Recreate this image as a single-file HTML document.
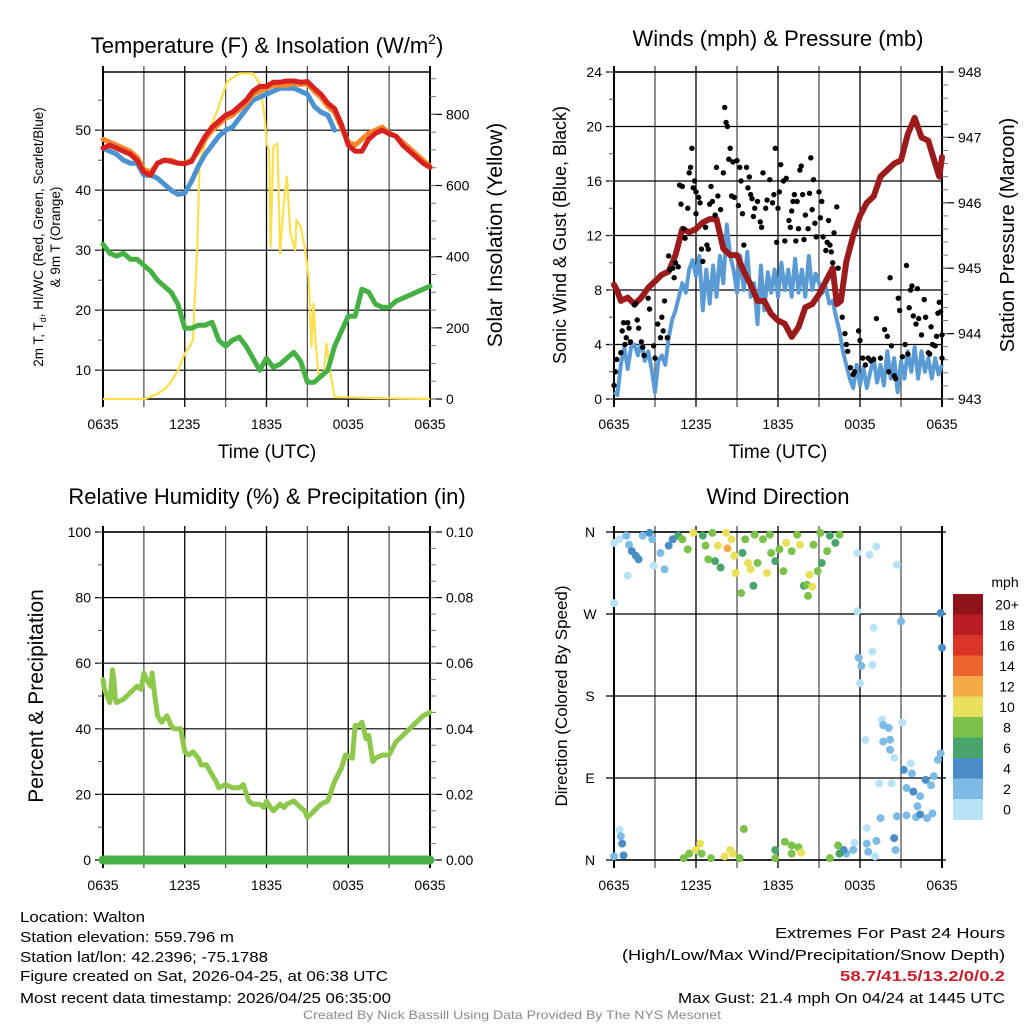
<!DOCTYPE html>
<html><head><meta charset="utf-8"><style>
html,body{margin:0;padding:0;background:#fff}
svg{display:block;font-family:"Liberation Sans",Arial,sans-serif}
</style></head><body>
<svg id="fig" width="1024" height="1024" viewBox="0 0 1024 1024" xmlns="http://www.w3.org/2000/svg">
<rect width="1024" height="1024" fill="#fff"/>
<g id="layer"></g>
<!-- titles -->
<text x="267" y="53" font-size="22" text-anchor="middle">Temperature (F) &amp; Insolation (W/m<tspan font-size="14" dy="-9">2</tspan><tspan dy="9">)</tspan></text>
<text x="778" y="46" font-size="22" text-anchor="middle">Winds (mph) &amp; Pressure (mb)</text>
<text x="267" y="504" font-size="22" text-anchor="middle">Relative Humidity (%) &amp; Precipitation (in)</text>
<text x="778" y="504" font-size="22" text-anchor="middle">Wind Direction</text>
<!-- axis titles -->
<text x="267" y="458" font-size="19" text-anchor="middle">Time (UTC)</text>
<text x="778" y="458" font-size="19" text-anchor="middle">Time (UTC)</text>
<text transform="translate(43,237) rotate(-90)" font-size="13.5" text-anchor="middle">2m T, T<tspan font-size="9" dy="3">d</tspan><tspan dy="-3">, HI/WC (Red, Green, Scarlet/Blue)</tspan></text>
<text transform="translate(60,237) rotate(-90)" font-size="13.5" text-anchor="middle">&amp; 9m T (Orange)</text>
<text transform="translate(502,235) rotate(-90)" font-size="21" text-anchor="middle">Solar Insolation (Yellow)</text>
<text transform="translate(566,235) rotate(-90)" font-size="18" text-anchor="middle">Sonic Wind &amp; Gust (Blue, Black)</text>
<text transform="translate(1014,235) rotate(-90)" font-size="20" text-anchor="middle">Station Pressure (Maroon)</text>
<text transform="translate(43,696) rotate(-90)" font-size="21" text-anchor="middle">Percent &amp; Precipitation</text>
<text transform="translate(567,696) rotate(-90)" font-size="17" text-anchor="middle">Direction (Colored By Speed)</text>
<!-- footer -->
<g font-size="15">
<text x="20" y="922" textLength="125" lengthAdjust="spacingAndGlyphs">Location: Walton</text>
<text x="20" y="942" textLength="214" lengthAdjust="spacingAndGlyphs">Station elevation: 559.796 m</text>
<text x="20" y="962" textLength="248" lengthAdjust="spacingAndGlyphs">Station lat/lon: 42.2396; -75.1788</text>
<text x="20" y="981" textLength="368" lengthAdjust="spacingAndGlyphs">Figure created on Sat, 2026-04-25, at 06:38 UTC</text>
<text x="20" y="1003" textLength="371" lengthAdjust="spacingAndGlyphs">Most recent data timestamp: 2026/04/25 06:35:00</text>
<text x="1005" y="938" text-anchor="end" textLength="230" lengthAdjust="spacingAndGlyphs">Extremes For Past 24 Hours</text>
<text x="1005" y="960" text-anchor="end" textLength="383" lengthAdjust="spacingAndGlyphs">(High/Low/Max Wind/Precipitation/Snow Depth)</text>
<text x="1005" y="981" text-anchor="end" fill="#c8202a" font-weight="bold" textLength="165" lengthAdjust="spacingAndGlyphs">58.7/41.5/13.2/0/0.2</text>
<text x="1005" y="1003" text-anchor="end" textLength="327" lengthAdjust="spacingAndGlyphs">Max Gust: 21.4 mph On 04/24 at 1445 UTC</text>
<text x="512" y="1019" text-anchor="middle" font-size="12" fill="#8a8a8a" textLength="418" lengthAdjust="spacingAndGlyphs">Created By Nick Bassill Using Data Provided By The NYS Mesonet</text>
</g>
</svg>
<script>
// ---------- data ----------
const xTickLabels = ["0635","1235","1835","0035","0635"];
const tempHours = [0,0.5,1,1.5,2,2.5,3,3.5,4,4.5,5,5.5,6,6.5,7,7.5,8,8.5,9,9.5,10,10.5,11,11.5,12,12.5,13,13.5,14,14.5,15,15.5,16,16.5,17,17.5,18,18.5,19,19.5,20,20.5,21,21.5,22,22.5,23,23.5,24];
const tempRed = [47,47.5,47,46.5,46,45,43,42.5,44.5,45,44.8,44.5,44.4,44.8,47,49,50.5,51.5,52.5,53,54,55,56.5,57.3,57.3,58,58,58.2,58.2,58,58.1,57,56,54.5,53.6,51,47.5,46.5,46.5,48.5,49.5,50,49.4,49,47.5,46.5,45.5,44.5,43.8];
const tempOrange = [48.5,48,47.5,47,46.5,45.5,43.5,43,44.5,45,45,44.5,44.5,45,46.5,48.5,50,51,52,52.5,53.5,54.5,56,56.5,57,57.5,57.5,57.5,57.8,57.6,57.8,56.5,55.5,54,53,50.5,48,47.5,48.5,49.5,50,50.5,49.5,49,48,47,46,45,44];
const tempBlue = [47,46.5,46,45,44.5,44.5,42.5,42.5,42,41,40,39.3,39.5,41.5,44,46,47.5,49,50,50.5,52,53.5,55,55.5,56,56.5,57,57,57,56.5,56,54,53,52.5,50,null,null,null,null,null,null,null,null,45.5,null,null,null,null,42.5];
const dewGreen = [31,29.5,29,29.5,28.5,28.5,27.5,26.5,25,24,23,21,17,17,17.5,17.5,18,15,14,15,15.5,14,12,10,12,10.5,11,12,13,11.5,8,8,9,10,14,16.5,19,19,23.5,23,21,20.5,20.5,21.5,22,22.5,23,23.5,24];
const solarHours = [0,3,3.2,4,4.6,5,5.5,6,6.4,6.6,6.9,7.1,7.3,7.6,8.4,9.1,10,11,11.5,11.9,12,12.2,12.3,12.5,12.8,13,13.25,13.5,13.75,14.1,14.2,14.5,14.8,15.1,15.3,15.45,15.6,15.8,16.2,16.4,16.7,17,24];
const solarValues = [0,0,2,15,30,49,80,128,150,166,410,672,690,737,812,892,915,915,887,784,718,700,428,709,718,409,540,625,466,419,503,484,428,344,147,269,160,72,63,156,72,5,0];
const windHours = [0,0.25,0.5,0.75,1,1.25,1.5,1.75,2,2.25,2.5,2.75,3,3.25,3.5,3.75,4,4.25,4.5,4.75,5,5.25,5.5,5.75,6,6.25,6.5,6.75,7,7.25,7.5,7.75,8,8.25,8.5,8.75,9,9.25,9.5,9.75,10,10.25,10.5,10.75,11,11.25,11.5,11.75,12,12.25,12.5,12.75,13,13.25,13.5,13.75,14,14.25,14.5,14.75,15,15.25,15.5,15.75,16,16.25,16.5,16.75,17,17.25,17.5,17.75,18,18.25,18.5,18.75,19,19.25,19.5,19.75,20,20.25,20.5,20.75,21,21.25,21.5,21.75,22,22.25,22.5,22.75,23,23.25,23.5,23.75,24];
const windSpeed = [0.5,0.3,2.5,3.8,2.2,3.8,4,3.2,4.2,2.8,3.5,2.2,0.5,2.8,3.2,2.5,4.5,5.8,6.5,7.5,8.5,7.8,9.5,10.2,9,10.5,6.5,9.5,7,9.8,7.5,10.5,8.5,12.8,10.5,9.5,7.8,10.5,8,10.8,7.5,8.5,5.5,9.8,6.5,9.3,7.8,9.5,7.5,10,8,9.5,7.5,10.3,7.8,9.5,7.5,10.5,8,9.2,8.5,7.8,8.2,7,7.2,6,5,3.5,2.5,1.5,0.8,2.5,1,2.3,0.8,2,3,1.2,2.5,1,3.5,1.5,3,0.5,2.8,1.5,3.5,2,3.8,1.5,3.5,2,3,1.5,3,1.8,2.5];
const presHours = [0,0.25,0.5,1,1.5,2,2.5,3,3.5,4,4.5,5,5.5,6,6.5,7,7.5,8,8.5,9,9.5,10,10.5,11,11.5,12,12.5,13,13.5,14,14.5,15,15.5,16,16.3,16.6,17,17.5,18,18.5,19,19.5,20,20.5,21,21.5,22,22.5,23,23.5,23.8,24];
const presValues = [944.75,944.65,944.5,944.55,944.45,944.55,944.7,944.8,944.9,944.95,945.2,945.6,945.55,945.6,945.7,945.75,945.75,945.3,945.2,945.2,944.95,944.75,944.5,944.5,944.3,944.2,944.15,943.95,944.1,944.4,944.45,944.6,944.8,945.0,944.45,944.5,945.1,945.5,945.8,946.0,946.1,946.4,946.5,946.6,946.65,947.05,947.3,947.0,946.95,946.6,946.4,946.7];
const gustHours = [0,0.1,0.2,0.5,0.6,0.7,0.8,0.9,1,1.1,1.2,1.5,1.6,1.7,1.8,2,2.1,2.2,2.5,2.6,2.9,3,3.2,3.4,3.5,3.6,3.7,3.9,4,4.1,4.3,4.4,4.5,4.7,4.8,4.9,5,5.1,5.2,5.4,5.5,5.6,5.7,5.8,5.9,6,6,6.2,6.3,6.4,6.5,6.7,6.8,6.9,7,7.1,7.2,7.4,7.5,7.6,7.8,8,8.1,8.2,8.3,8.4,8.5,8.6,8.7,8.8,9,9.1,9.2,9.3,9.4,9.5,9.7,9.8,9.9,10,10.1,10.2,10.3,10.5,10.7,10.8,10.9,11.1,11.2,11.4,11.6,11.7,11.8,11.9,12,12.1,12.2,12.4,12.5,12.6,12.8,12.9,13,13.1,13.2,13.3,13.4,13.5,13.6,13.7,13.8,13.9,14,14.2,14.3,14.4,14.5,14.6,14.7,14.8,15,15.1,15.2,15.3,15.5,15.6,15.7,15.8,15.9,16,16.1,16.3,16.4,16.7,16.9,17,17.1,17.3,17.5,17.6,17.9,18,18.2,18.4,18.6,18.8,19,19.2,19.5,19.8,20,20.1,20.2,20.3,20.5,20.6,20.8,20.9,21.1,21.3,21.4,21.5,21.6,21.7,21.8,21.9,22.1,22.2,22.3,22.5,22.7,22.8,23,23.1,23.2,23.3,23.5,23.6,23.7,23.8,23.9,24,24];
const gustSpeed = [1,2,2.9,3.4,5,5.6,4,4.5,5.6,5.2,4.2,6.9,7,5.8,5.2,4.2,3.8,3.2,7.4,6.6,3.9,3,5.5,4.5,6,5,7.2,4.5,10.5,9.5,9.6,8.9,10,9.7,15.7,14.3,15.6,12.5,11.8,14,16.6,17,18.4,15.5,16,13.6,15.2,14.8,14.4,11,10.1,12.6,11.3,11,14.3,15.6,14.5,13.5,17,14.9,13.9,16.6,21.4,20.3,20,17.6,18.4,14.9,17.4,14.8,17.5,14.2,17,16,13.6,11.3,17,15.5,16.3,15,14.7,13.4,14,14.5,13,12.6,16.6,14,14.6,16.1,14.4,15,18.4,11.5,14,15.2,17.2,16,11.6,16.2,13.1,12.6,13.8,14.5,15,11.6,14.5,12.5,16.8,17.1,15,11.7,13.5,12.5,15.1,17.7,13.9,16.1,12.9,11.9,15.2,13.3,14.5,11.9,10.9,11.5,13.1,11.3,10.8,10,12.2,14.1,9.6,6,4.8,4,3.5,2.3,1.8,2,5,4.3,3,2.5,3,2.8,2.9,5.9,3,5.1,4.6,2,8.9,3.9,1.7,1.5,7.4,6.5,3.1,4,9.8,3.3,6.7,8,8.3,6.1,5.5,8.1,5.9,4.7,7.3,6,3.4,3.3,5.3,4,3.9,4.6,6.3,7.1,6.4,4.7,3];
const rhHours = [0,0.1,0.3,0.5,0.7,0.8,0.9,1,1.5,2,2.5,2.8,3,3.2,3.5,3.6,3.8,4,4.3,4.7,5,5.2,5.7,6,6.3,6.6,7,7.2,7.6,8,8.3,8.5,9,9.5,10,10.3,10.7,11,11.5,11.8,12,12.3,12.5,13,13.3,13.5,14,14.5,14.8,15,15.5,16,16.5,17,17.5,17.8,18.3,18.5,18.8,19,19.3,19.5,19.8,20,20.5,21,21.5,22,22.5,23,23.5,24];
const rhValues = [55,52,50,48,58,55,49,48,49,51,53,52,57,55,53,57,50,44,42,44,41,40,40,33,32,33,31,29,29,26,24,22,23,22,22,23,18,17,17,16,18,16,15,17,16,17,18,16,15,13,15,17,18,24,28,32,31,41,41,42,37,38,30,31,32,32,36,38,40,42,44,45];
const precipHours = [0,24];
const precipValues = [0,0];
const dirHours = [0,0.4,0.9,1.1,1.3,1.6,1.8,2.1,2.6,2.8,2.9,3.4,3.7,1,0,4,4.3,4.7,5,5.4,5.8,6.5,6.7,6.9,7.2,7.4,7.6,7.8,8.2,8.3,8.6,8.8,8.9,9.3,9.4,9.6,9.8,10,10.2,10.3,10.5,10.9,11.2,11.4,11.5,11.8,12.1,12.4,12.6,13,13.4,13.6,13.9,14.1,14.3,14.5,14.2,14.6,14.9,15.1,15.2,15.6,15.8,16.2,16.5,17.8,18.7,19.2,20.7,17.8,19,21,23.9,24,18.9,17.9,18.1,18.9,18,19.6,19.7,20.1,21.1,18.4,19.7,20.2,20.2,20.5,21.2,21.7,21.8,22.8,23.4,23.7,23.9,21.4,21.9,22.4,22.2,23.2,19.4,20.3,19.5,20.7,21.4,22.1,22.4,22.9,23.3,18.5,19.2,20.5,20.6,18.5,18.6,19.1,17.6,17.5,17,16.8,16.5,16.4,15.8,0.4,0.5,0.6,0.7,0,5.1,5.5,6,6.3,6.4,7.1,8.1,8.5,8.7,9.2,9.5,11.8,11.8,12.5,13,13,13.5,13.7];
const dirDegrees = [348,352,356,346,339,334,330,356,359,352,323,337,319,312,282,345,352,356,352,341,359,356,345,330,359,328,345,321,359,342,352,334,315,293,337,352,326,319,301,357,326,352,315,357,337,328,341,317,348,339,357,346,301,302,313,300,290,346,317,359,326,339,356,348,357,337,335,344,324,273,255,262,271,233,229,222,213,214,194,154,148,145,151,132,130,132,121,112,99,106,95,88,92,110,117,79,75,70,59,82,84,84,46,48,49,47,50,46,51,35,21,24,11,18,9,4,19,11,7,11,7,16,2,33,26,18,5,4,2,7,11,18,7,2,4,11,7,2,34,2,11,20,16,7,14,8];
const dirSpeeds = [1,1,2,3,4,4,4,2,4,2,1,2,2,1,1,5,4,6,8,8,10,6,8,8,8,6,10,6,10,13,10,10,10,8,6,8,10,10,6,8,8,8,10,8,8,6,8,8,10,8,8,10,6,8,10,10,8,8,8,8,6,8,6,6,8,1,1,1,1,1,1,2,4,4,1,2,2,1,1,1,2,3,1,1,2,2,2,1,4,1,2,4,2,2,2,2,4,2,2,2,1,1,2,2,2,2,4,2,2,1,2,4,2,2,2,1,1,2,3,4,6,8,8,1,2,4,4,2,8,8,10,10,8,8,10,10,10,8,8,8,6,8,8,8,8,10];
const speedBinLabels = ["0","2","4","6","8","10","12","14","16","18","20+"];
const speedBinColors = ["#b8e3f6","#7dbbe6","#4a8dc6","#49a56b","#7cc24a","#e8e05a","#f5aa48","#ef6530","#da3429","#bb1d25","#8e1519"];

// ---------- helpers ----------
const NS="http://www.w3.org/2000/svg";
const layer=document.getElementById('layer');
function mk(tag, attrs, parent){const el=document.createElementNS(NS,tag);for(const k in attrs)el.setAttribute(k,attrs[k]);(parent||layer).appendChild(el);return el;}
function scale(d0,d1,r0,r1){return v=>r0+(v-d0)/(d1-d0)*(r1-r0);}
function linePath(xs,ys,fx,fy){let d="",pen=false;for(let i=0;i<xs.length;i++){if(ys[i]===null||ys[i]===undefined){pen=false;continue;}d+=(pen?"L":"M")+fx(xs[i]).toFixed(1)+","+fy(ys[i]).toFixed(1);pen=true;}return d;}
function speedColor(s){let i=Math.floor(s/2);if(i>10)i=10;if(i<0)i=0;return speedBinColors[i];}

const panels={
 temp:{x0:103,x1:430,y0:72,y1:399},
 wind:{x0:614,x1:942,y0:72,y1:399},
 rh:{x0:103,x1:430,y0:532,y1:860},
 dir:{x0:614,x1:942,y0:532,y1:860}
};

function frame(p,name,opts){
 const g=mk('g',{});
 
 
 const fx=scale(0,24,p.x0,p.x1);
 // vertical grid every 3h
 for(let h=0;h<=24;h+=3){
  const x=fx(h);
  const ln=mk('line',{x1:x,x2:x,y1:p.y0-6,y2:p.y1+(opts.noBottomTicks?0:8),stroke:(h%6===0)?'#000':'#555','stroke-width':(h===0||h===24)?2:1.3},g);
  
  
 }
 // x labels
 xTickLabels.forEach((lab,i)=>{
  const t=mk('text',{x:fx(i*6),y:p.y1+30,'font-size':14,'text-anchor':'middle'},g);
  
  
  t.textContent=lab;
 });
 // left axis
 const fyL=scale(opts.l0,opts.l1,p.y1,p.y0);
 opts.lTicks.forEach((v,i)=>{
  const y=fyL(v);
  const gl=mk('line',{x1:p.x0-8,x2:p.x1+(opts.gridRight||0),y1:y,y2:y,stroke:'#000','stroke-width':1.2},g);
  
  
  const t=mk('text',{x:opts.lLabelX||(p.x0-12),y:y+5,'font-size':14,'text-anchor':opts.lAnchor||'end'},g);
  
  
  t.textContent=opts.lLabels?opts.lLabels[i]:String(v);
 });
 if(opts.lMinor){for(let v=opts.lMinor[0];v<=opts.l1;v+=opts.lMinor[1]){const y=fyL(v);mk('line',{x1:p.x0-5,x2:p.x0,y1:y,y2:y,stroke:'#555','stroke-width':1},g);}}
 // right axis
 if(opts.r0!==undefined){
  const fyR=scale(opts.r0,opts.r1,p.y1,p.y0);
  opts.rTicks.forEach(v=>{
   const y=fyR(v);
   mk('line',{x1:p.x1,x2:p.x1+12,y1:y,y2:y,stroke:'#000','stroke-width':1.2},g);
   const t=mk('text',{x:p.x1+16,y:y+5,'font-size':14},g);
   
   
   t.textContent=opts.rFmt?opts.rFmt(v):String(v);
  });
  for(let v=opts.r0;v<=opts.r1+1e-9;v+=opts.rMinor){const y=fyR(v);mk('line',{x1:p.x1,x2:p.x1+6,y1:y,y2:y,stroke:'#777','stroke-width':1},g);}
 }
 // top border
 mk('line',{x1:p.x0,x2:p.x1,y1:p.y0,y2:p.y0,stroke:'#000','stroke-width':1.5},g);
 mk('line',{x1:p.x0,x2:p.x1,y1:p.y1,y2:p.y1,stroke:'#000','stroke-width':1.5},g);
 return {fx,fyL};
}

// ---------- panel 1: temperature ----------
(function(){
 const p=panels.temp;
 const a=frame(p,'temp',{l0:5.2,l1:59.7,lTicks:[10,20,30,40,50],lMinor:[10,5],r0:0,r1:919,rTicks:[0,200,400,600,800],rMinor:50});
 const fyR=scale(0,919,p.y1,p.y0);
 const sol=mk('path',{d:linePath(solarHours,solarValues,a.fx,fyR),fill:'none',stroke:'#fbe04c','stroke-width':2.2,'stroke-linejoin':'round'});
 
 
 const dew=mk('path',{d:linePath(tempHours,dewGreen,a.fx,a.fyL),fill:'none',stroke:'#45b043','stroke-width':5,'stroke-linejoin':'round','stroke-linecap':'round'});
 
 
 const ob=mk('path',{d:linePath(tempHours,tempBlue,a.fx,a.fyL),fill:'none',stroke:'#4b92d0','stroke-width':5,'stroke-linejoin':'round','stroke-linecap':'round'});
 
 
 const oo=mk('path',{d:linePath(tempHours,tempOrange,a.fx,a.fyL),fill:'none',stroke:'#f5862b','stroke-width':5,'stroke-linejoin':'round','stroke-linecap':'round'});
 
 
 const or=mk('path',{d:linePath(tempHours,tempRed,a.fx,a.fyL),fill:'none',stroke:'#d7211f','stroke-width':5,'stroke-linejoin':'round','stroke-linecap':'round'});
 
 
})();

// ---------- panel 2: winds ----------
(function(){
 const p=panels.wind;
 const a=frame(p,'wind',{l0:0,l1:24,lTicks:[0,4,8,12,16,20,24],lMinor:[0,2],r0:943,r1:948,rTicks:[943,944,945,946,947,948],rMinor:0.2});
 const fyR=scale(943,948,p.y1,p.y0);
 const wl=mk('path',{d:linePath(windHours,windSpeed,a.fx,a.fyL),fill:'none',stroke:'#5b9bd5','stroke-width':4,'stroke-linejoin':'round'});
 
 
 const pl=mk('path',{d:linePath(presHours,presValues,a.fx,fyR),fill:'none',stroke:'#9b1b1d','stroke-width':6,'stroke-linejoin':'round','stroke-linecap':'round'});
 
 
 gustHours.forEach((h,i)=>{
  const c=mk('circle',{cx:a.fx(h),cy:a.fyL(gustSpeed[i]),r:2.7,fill:'#000'});
  
  
 });
})();

// ---------- panel 3: RH ----------
(function(){
 const p=panels.rh;
 const a=frame(p,'rh',{l0:0,l1:100,lTicks:[0,20,40,60,80,100],lMinor:[0,10],r0:0,r1:0.1,rTicks:[0,0.02,0.04,0.06,0.08,0.1],rFmt:v=>v.toFixed(2),rMinor:0.005});
 const fyR=scale(0,0.1,p.y1,p.y0);
 const rl=mk('path',{d:linePath(rhHours,rhValues,a.fx,a.fyL),fill:'none',stroke:'#8dc84c','stroke-width':5,'stroke-linejoin':'round','stroke-linecap':'round'});
 
 
 const pr=mk('path',{d:linePath(precipHours,precipValues,a.fx,fyR),fill:'none',stroke:'#46b045','stroke-width':9,'stroke-linecap':'round'});
 
 
})();

// ---------- panel 4: direction ----------
(function(){
 const p=panels.dir;
 const a=frame(p,'dir',{l0:0,l1:360,lTicks:[0,90,180,270,360],lLabels:["N","E","S","W","N"],lLabelX:590,lAnchor:'middle',gridRight:4,noBottomTicks:false});
 dirHours.forEach((h,i)=>{
  const c=mk('circle',{cx:a.fx(h),cy:a.fyL(dirDegrees[i]),r:4,fill:speedColor(dirSpeeds[i])});
  
  
 });
 // legend
 const lg=mk('g',{});
 
 
 const t0=mk('text',{x:1005,y:587,'font-size':14,'text-anchor':'middle'},lg);
 
 
 t0.textContent='mph';
 const n=speedBinLabels.length, bh=20.5, top=594;
 for(let k=0;k<n;k++){
  const idx=n-1-k;
  const r=mk('rect',{x:953,y:top+k*bh,width:30,height:bh+0.5,fill:speedBinColors[idx]},lg);
  
  
  const t=mk('text',{x:1007,y:top+k*bh+bh/2+5,'font-size':14,'text-anchor':'middle'},lg);
  
  
  t.textContent=speedBinLabels[idx];
 }
})();
</script>
</body></html>
